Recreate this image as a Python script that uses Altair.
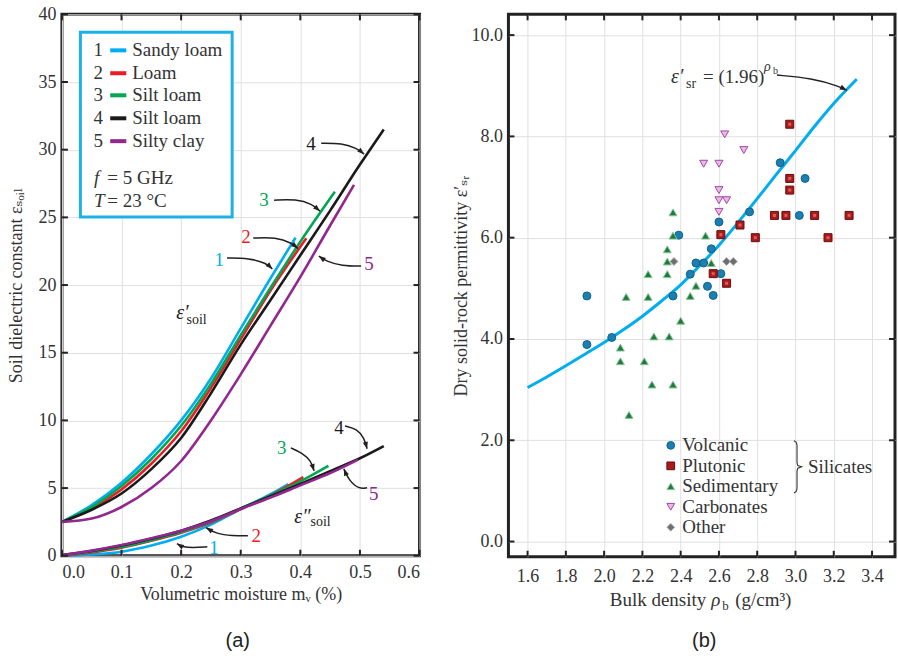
import altair as alt
import pandas as pd

SERIF = "Liberation Serif, DejaVu Serif, serif"
SANS = "Liberation Sans, Arial, sans-serif"
INK = "#231f20"

# ================= Panel (a): soil dielectric constant =================
soil_ids = ["1", "2", "3", "4", "5"]
soil_labels = ["Sandy loam", "Loam", "Silt loam", "Silt loam", "Silty clay"]
soil_colors = ["#00aeef", "#ed1c24", "#00a651", "#1a1a1a", "#92278f"]

# real part  eps'
mv_re_1 = [0, 0.05, 0.1, 0.15, 0.2, 0.25, 0.3, 0.35, 0.392]
ep_re_1 = [2.5, 3.75, 5.4, 7.5, 10.0, 13.1, 16.8, 20.5, 23.5]
mv_re_2 = [0, 0.05, 0.1, 0.15, 0.2, 0.25, 0.3, 0.35, 0.41]
ep_re_2 = [2.5, 3.5, 4.9, 6.8, 9.2, 12.4, 16.0, 19.6, 23.45]
mv_re_3 = [0, 0.05, 0.1, 0.15, 0.2, 0.25, 0.3, 0.35, 0.4, 0.458]
ep_re_3 = [2.5, 3.6, 5.15, 7.15, 9.6, 12.7, 16.3, 19.8, 23.2, 26.9]
mv_re_4 = [0, 0.05, 0.1, 0.15, 0.2, 0.25, 0.3, 0.35, 0.4, 0.45, 0.5, 0.54]
ep_re_4 = [2.5, 3.4, 4.6, 6.4, 8.7, 12.0, 15.6, 18.9, 22.2, 25.5, 28.9, 31.5]
mv_re_5 = [0, 0.05, 0.1, 0.15, 0.2, 0.25, 0.3, 0.35, 0.4, 0.45, 0.49]
ep_re_5 = [2.5, 2.75, 3.6, 5.0, 7.0, 10.0, 13.4, 17.0, 20.6, 24.4, 27.4]

# imaginary part  eps''
mv_im_1 = [0, 0.05, 0.1, 0.15, 0.2, 0.25, 0.3, 0.35, 0.38]
ep_im_1 = [0, 0.1, 0.3, 0.75, 1.4, 2.3, 3.45, 4.55, 5.3]
mv_im_2 = [0, 0.05, 0.1, 0.15, 0.2, 0.25, 0.3, 0.35, 0.405]
ep_im_2 = [0, 0.25, 0.6, 1.1, 1.7, 2.45, 3.45, 4.45, 5.8]
mv_im_3 = [0, 0.05, 0.1, 0.15, 0.2, 0.25, 0.3, 0.35, 0.4, 0.447]
ep_im_3 = [0, 0.3, 0.65, 1.15, 1.75, 2.5, 3.5, 4.45, 5.5, 6.65]
mv_im_4 = [0, 0.05, 0.1, 0.15, 0.2, 0.25, 0.3, 0.35, 0.4, 0.45, 0.5, 0.54]
ep_im_4 = [0.05, 0.35, 0.75, 1.25, 1.85, 2.6, 3.5, 4.4, 5.3, 6.25, 7.2, 8.1]
mv_im_5 = [0, 0.05, 0.1, 0.15, 0.2, 0.25, 0.3, 0.35, 0.4, 0.45, 0.497]
ep_im_5 = [0.05, 0.38, 0.8, 1.3, 1.85, 2.55, 3.45, 4.3, 5.2, 6.1, 7.1]

x_ticks_a = [0.0, 0.1, 0.2, 0.3, 0.4, 0.5, 0.6]
y_ticks_a = [0, 5, 10, 15, 20, 25, 30, 35, 40]

# annotation: series numbers and their arrows (data units)
num_re_x = [0.264, 0.309, 0.339, 0.418, 0.515]
num_re_y = [21.85, 23.54, 26.27, 30.4, 21.55]
num_im_x = [0.255, 0.326, 0.369, 0.465, 0.523]
num_im_y = [0.59, 1.48, 7.97, 9.45, 4.58]

arrow_paths_a = {
    "r1": ([0.277, 0.314, 0.343, 0.353], [21.99, 21.99, 21.62, 21.18], 45),
    "r2": ([0.321, 0.359, 0.386, 0.396], [23.47, 23.54, 23.10, 22.70], 40),
    "r3": ([0.356, 0.393, 0.420, 0.433], [26.27, 26.35, 25.98, 25.46], 41),
    "r4": ([0.435, 0.470, 0.495, 0.507], [30.48, 30.48, 30.11, 29.67], 41),
    "r5": ([0.502, 0.470, 0.443, 0.431], [21.40, 21.40, 21.77, 22.14], 215),
    "i1": ([0.244, 0.219, 0.202, 0.193], [0.66, 0.59, 0.66, 0.89], 211),
    "i2": ([0.312, 0.286, 0.259, 0.242], [1.48, 1.48, 1.62, 2.07], 211),
    "i3": ([0.384, 0.403, 0.418, 0.423], [7.97, 7.60, 7.01, 6.27], 73),
    "i4": ([0.475, 0.495, 0.507, 0.512], [9.59, 9.37, 8.71, 7.90], 75),
    "i5": ([0.512, 0.498, 0.482, 0.473], [5.02, 4.94, 5.54, 6.42], 247),
}

# legend box of panel (a)
box_x = [0.031, 0.2856]
box_y = [25.02, 38.67]
leg_row_y = [37.34, 35.65, 34.02, 32.32, 30.63]
leg_num_x = 0.061
leg_line_x = [0.081, 0.108]
leg_text_x = 0.118
cond_y = [27.92, 26.2]
cond_sym = ["f", "T"]
cond_txt = ["= 5 GHz", "= 23 °C"]
cond_sym_x = 0.054
cond_txt_x = 0.0762

# ================= Panel (b): dry solid-rock permittivity =================
rock_types = ["Volcanic", "Plutonic", "Sedimentary", "Carbonates", "Other"]
rock_shapes = ["circle", "square", "triangle-up", "triangle-down", "diamond"]
rock_fill = ["#1b7fb0", "#a51c1c", "#1e7b3c", "#e9b8e9", "#6e6e6e"]
rock_stroke = ["#106090", "#6e0a0a", "#8cc69c", "#a348a3", "#b0b0b0"]

volc_x = [1.91, 1.91, 2.04, 2.36, 2.39, 2.45, 2.48, 2.52, 2.54, 2.56, 2.57, 2.60, 2.61, 2.76, 2.92, 3.02, 3.05]
volc_y = [4.85, 3.89, 4.03, 4.85, 6.05, 5.28, 5.50, 5.50, 5.04, 5.78, 4.86, 6.31, 5.29, 6.51, 7.48, 6.44, 7.17]
plut_x = [2.57, 2.64, 2.61, 2.71, 2.79, 2.89, 2.95, 2.97, 2.97, 2.97, 3.10, 3.17, 3.28]
plut_y = [5.29, 5.10, 6.06, 6.25, 6.00, 6.44, 6.44, 8.24, 7.17, 6.94, 6.44, 6.00, 6.44]
sedi_x = [2.085, 2.085, 2.13, 2.21, 2.25, 2.36, 2.26, 2.34, 2.40, 2.115, 2.23, 2.23, 2.33, 2.33, 2.33, 2.36, 2.36, 2.45, 2.48, 2.56, 2.53]
sedi_y = [3.83, 3.56, 2.50, 3.56, 3.10, 3.10, 4.05, 4.05, 4.36, 4.83, 4.83, 5.28, 5.28, 5.53, 5.77, 6.04, 6.50, 4.85, 5.05, 5.50, 6.04]
carb_x = [2.52, 2.60, 2.63, 2.73, 2.60, 2.60, 2.64, 2.60]
carb_y = [7.46, 7.46, 8.04, 7.73, 6.94, 6.74, 6.74, 6.51]
other_x = [2.365, 2.64, 2.675]
other_y = [5.53, 5.53, 5.53]

fit_x = [1.6, 1.7, 1.8, 1.9, 2.0, 2.1, 2.2, 2.3, 2.4, 2.5, 2.6, 2.7, 2.8, 2.9, 3.0, 3.1, 3.2, 3.32]
fit_y = [3.04, 3.25, 3.47, 3.70, 3.93, 4.18, 4.45, 4.75, 5.07, 5.45, 5.85, 6.30, 6.77, 7.25, 7.72, 8.2, 8.65, 9.13]

x_ticks_b = [1.6, 1.8, 2.0, 2.2, 2.4, 2.6, 2.8, 3.0, 3.2, 3.4]
y_ticks_b = [0, 2, 4, 6, 8, 10]

brace_x = [2.992, 3.004, 3.008, 3.008, 3.012, 3.032, 3.012, 3.008, 3.008, 3.004, 2.992]
brace_y = [1.99, 1.96, 1.90, 1.56, 1.50, 1.475, 1.45, 1.39, 1.05, 0.99, 0.96]

eq_arrow_x = [2.903, 3.086, 3.228, 3.268]
eq_arrow_y = [9.21, 9.15, 8.99, 8.91]
eq_arrow_angle = 27

ARROW = "M0,0L-1,-0.38L-1,0.38Z"

# ---------------- build panel (a) ----------------
W_A, H_A = 358, 542
re_series = [(mv_re_1, ep_re_1), (mv_re_2, ep_re_2), (mv_re_3, ep_re_3), (mv_re_4, ep_re_4), (mv_re_5, ep_re_5)]
im_series = [(mv_im_1, ep_im_1), (mv_im_2, ep_im_2), (mv_im_3, ep_im_3), (mv_im_4, ep_im_4), (mv_im_5, ep_im_5)]
rows = []
for part, series in (("re", re_series), ("im", im_series)):
    for sid, (xs, ys) in zip(soil_ids, series):
        for i, (x, y) in enumerate(zip(xs, ys)):
            rows.append({"sid": sid, "part": part, "mv": x, "eps": y, "seq": i})
df_a = pd.DataFrame(rows)

xa_scale = alt.Scale(domain=[0, 0.6], nice=False, zero=False)
ya_scale = alt.Scale(domain=[0, 40], nice=False, zero=False)
xa_axis = alt.Axis(values=x_ticks_a, format=".1f", title="Volumetric moisture mᵥ (%)",
                   labelPadding=8, titlePadding=4, grid=True)
ya_axis = alt.Axis(values=y_ticks_a, format="d", title="Soil dielectric constant εₛₒᵢₗ",
                   labelPadding=6, titleX=-36, titleY=H_A / 2, grid=True)
col_a = alt.Scale(domain=soil_ids, range=soil_colors)


def XA(f):
    return alt.X(f"{f}:Q", scale=xa_scale, axis=xa_axis)


def YA(f):
    return alt.Y(f"{f}:Q", scale=ya_scale, axis=ya_axis)


curves_a = alt.Chart(df_a).mark_line(strokeWidth=2.6, interpolate="monotone").encode(
    x=XA("mv"), y=YA("eps"),
    color=alt.Color("sid:N", scale=col_a, legend=None),
    detail="part:N", order="seq:Q")

# inward ticks
df_xt_a = pd.DataFrame({"v": x_ticks_a})
df_yt_a = pd.DataFrame({"v": y_ticks_a})
tick_style = dict(color="#222", strokeWidth=2)
ticks_a = alt.layer(
    alt.Chart(df_xt_a).mark_rule(**tick_style).encode(x=XA("v"), y=alt.value(H_A), y2=alt.value(H_A - 6)),
    alt.Chart(df_xt_a).mark_rule(**tick_style).encode(x=XA("v"), y=alt.value(0), y2=alt.value(6)),
    alt.Chart(df_yt_a).mark_rule(**tick_style).encode(y=YA("v"), x=alt.value(0), x2=alt.value(6)),
    alt.Chart(df_yt_a).mark_rule(**tick_style).encode(y=YA("v"), x=alt.value(W_A), x2=alt.value(W_A - 6)),
)

# arrows
arr_rows, head_rows = [], []
for aid, (xs, ys, ang) in arrow_paths_a.items():
    for i, (x, y) in enumerate(zip(xs, ys)):
        arr_rows.append({"aid": aid, "seq": i, "x": x, "y": y})
    head_rows.append({"x": xs[-1], "y": ys[-1], "ang": ang})
df_arr_a = pd.DataFrame(arr_rows)
df_head_a = pd.DataFrame(head_rows)
arrows_a = alt.Chart(df_arr_a).mark_line(color=INK, strokeWidth=1.5, interpolate="basis").encode(
    x=XA("x"), y=YA("y"), detail="aid:N", order="seq:Q")
heads_a = alt.Chart(df_head_a).mark_point(shape=ARROW, filled=True, color=INK, size=190, opacity=1).encode(
    x=XA("x"), y=YA("y"), angle=alt.Angle("ang:Q", scale=None))

df_num = pd.DataFrame({"sid": soil_ids * 2, "x": num_re_x + num_im_x, "y": num_re_y + num_im_y})
nums_a = alt.Chart(df_num).mark_text(font=SERIF, fontSize=19, baseline="middle", align="center").encode(
    x=XA("x"), y=YA("y"), text="sid:N", color=alt.Color("sid:N", scale=col_a, legend=None))

# eps labels
df_eps_sym = pd.DataFrame({"x": [0.192, 0.390], "y": [17.9, 2.83], "t": ["ε′", "ε″"]})
df_eps_sub = pd.DataFrame({"x": [0.209, 0.417], "y": [17.45, 2.46], "t": ["soil", "soil"]})
eps_sym = alt.Chart(df_eps_sym).mark_text(font=SERIF, fontSize=20, fontStyle="italic", align="left",
                                          baseline="middle", color=INK).encode(x=XA("x"), y=YA("y"), text="t:N")
eps_sub = alt.Chart(df_eps_sub).mark_text(font=SERIF, fontSize=14, align="left",
                                          baseline="middle", color=INK).encode(x=XA("x"), y=YA("y"), text="t:N")

# legend box (a)
df_box = pd.DataFrame({"x0": [box_x[0]], "x1": [box_x[1]], "y0": [box_y[0]], "y1": [box_y[1]]})
box_a = alt.Chart(df_box).mark_rect(fill="white", stroke="#1eb1e8", strokeWidth=3).encode(
    x=XA("x0"), x2="x1", y=YA("y0"), y2="y1")
df_leg = pd.DataFrame({"sid": soil_ids, "lab": soil_labels, "y": leg_row_y,
                       "xn": [leg_num_x] * 5, "xl0": [leg_line_x[0]] * 5, "xl1": [leg_line_x[1]] * 5,
                       "xt": [leg_text_x] * 5})
leg_num = alt.Chart(df_leg).mark_text(font=SERIF, fontSize=19, align="center", baseline="middle",
                                      color="#333").encode(x=XA("xn"), y=YA("y"), text="sid:N")
leg_line = alt.Chart(df_leg).mark_rule(strokeWidth=4).encode(
    x=XA("xl0"), x2="xl1", y=YA("y"), color=alt.Color("sid:N", scale=col_a, legend=None))
leg_txt = alt.Chart(df_leg).mark_text(font=SERIF, fontSize=19, align="left", baseline="middle",
                                      color="#333").encode(x=XA("xt"), y=YA("y"), text="lab:N")
df_cond = pd.DataFrame({"s": cond_sym, "t": cond_txt, "y": cond_y,
                        "xs": [cond_sym_x] * 2, "xt": [cond_txt_x] * 2})
cond_s = alt.Chart(df_cond).mark_text(font=SERIF, fontSize=19, fontStyle="italic", align="left",
                                      baseline="middle", color="#333").encode(x=XA("xs"), y=YA("y"), text="s:N")
cond_t = alt.Chart(df_cond).mark_text(font=SERIF, fontSize=19, align="left",
                                      baseline="middle", color="#333").encode(x=XA("xt"), y=YA("y"), text="t:N")

cap_a = alt.Chart(pd.DataFrame({"t": ["(a)"]})).mark_text(font=SANS, fontSize=20, color="#222").encode(
    x=alt.value(176), y=alt.value(627), text="t:N")

panel_a = alt.layer(curves_a, ticks_a, arrows_a, heads_a, nums_a, eps_sym, eps_sub,
                    box_a, leg_line, leg_num, leg_txt, cond_s, cond_t, cap_a).properties(width=W_A, height=H_A)

# ---------------- build panel (b) ----------------
W_B, H_B = 387, 543
pts = []
for name, xs, ys in (("Volcanic", volc_x, volc_y), ("Plutonic", plut_x, plut_y),
                     ("Sedimentary", sedi_x, sedi_y), ("Carbonates", carb_x, carb_y),
                     ("Other", other_x, other_y)):
    for x, y in zip(xs, ys):
        pts.append({"type": name, "rho": x, "eps": y})
df_b = pd.DataFrame(pts)

xb_scale = alt.Scale(domain=[1.5, 3.52], nice=False, zero=False)
yb_scale = alt.Scale(domain=[-0.3, 10.41], nice=False, zero=False)
xb_axis = alt.Axis(values=x_ticks_b, format=".1f", title=None, labelPadding=11, grid=True)
yb_axis = alt.Axis(values=y_ticks_b, format=".1f", title="Dry solid-rock permittivity ε′ₛᵣ",
                   labelPadding=6, titleX=-38, titleY=H_B / 2, grid=True)


def XB(f):
    return alt.X(f"{f}:Q", scale=xb_scale, axis=xb_axis)


def YB(f):
    return alt.Y(f"{f}:Q", scale=yb_scale, axis=yb_axis)


leg_b = alt.Legend(title=None, orient="none", legendX=600, legendY=422, labelFont=SERIF, labelFontSize=19,
                   labelColor="#333", symbolSize=60, rowPadding=0.5, padding=0, labelOffset=2,
                   symbolStrokeWidth=1)
points_b = alt.Chart(df_b).mark_point(filled=True, size=64, strokeWidth=1, opacity=1).encode(
    x=XB("rho"), y=YB("eps"),
    shape=alt.Shape("type:N", scale=alt.Scale(domain=rock_types, range=rock_shapes), legend=leg_b),
    fill=alt.Fill("type:N", scale=alt.Scale(domain=rock_types, range=rock_fill), legend=leg_b),
    stroke=alt.Stroke("type:N", scale=alt.Scale(domain=rock_types, range=rock_stroke), legend=leg_b),
)
# lighter centre of the plutonic squares
plut_core = alt.Chart(df_b[df_b["type"] == "Plutonic"]).mark_point(
    shape="square", filled=True, size=9, color="#e05a5a", opacity=1).encode(x=XB("rho"), y=YB("eps"))
fit_b = alt.Chart(pd.DataFrame({"rho": fit_x, "eps": fit_y})).mark_line(
    color="#00aeef", strokeWidth=3, interpolate="monotone").encode(x=XB("rho"), y=YB("eps"))

df_xt_b = pd.DataFrame({"v": x_ticks_b})
df_yt_b = pd.DataFrame({"v": y_ticks_b})
ticks_b = alt.layer(
    alt.Chart(df_xt_b).mark_rule(**tick_style).encode(x=XB("v"), y=alt.value(H_B), y2=alt.value(H_B - 6)),
    alt.Chart(df_xt_b).mark_rule(**tick_style).encode(x=XB("v"), y=alt.value(0), y2=alt.value(6)),
    alt.Chart(df_yt_b).mark_rule(**tick_style).encode(y=YB("v"), x=alt.value(0), x2=alt.value(6)),
    alt.Chart(df_yt_b).mark_rule(**tick_style).encode(y=YB("v"), x=alt.value(W_B), x2=alt.value(W_B - 6)),
)

brace = alt.Chart(pd.DataFrame({"x": brace_x, "y": brace_y, "seq": list(range(len(brace_x)))})).mark_line(
    color="#333", strokeWidth=1.1).encode(x=XB("x"), y=YB("y"), order="seq:Q")
silic = alt.Chart(pd.DataFrame({"x": [3.065], "y": [1.475], "t": ["Silicates"]})).mark_text(
    font=SERIF, fontSize=19, align="left", baseline="middle", color="#333").encode(x=XB("x"), y=YB("y"), text="t:N")

# equation annotation
eq_norm = alt.Chart(pd.DataFrame({"x": [2.428, 2.517, 2.882], "y": [8.95, 9.05, 9.23],
                                  "t": ["sr", "= (1.96)", "b"], "s": [14, 19, 10]})).mark_text(
    font=SERIF, align="left", baseline="alphabetic", color="#333").encode(
    x=XB("x"), y=YB("y"), text="t:N", size=alt.Size("s:Q", scale=None, legend=None))
eq_ital = alt.Chart(pd.DataFrame({"x": [2.350, 2.835], "y": [9.05, 9.29],
                                  "t": ["ε′", "ρ"], "s": [20, 14]})).mark_text(
    font=SERIF, fontStyle="italic", align="left", baseline="alphabetic", color="#333").encode(
    x=XB("x"), y=YB("y"), text="t:N", size=alt.Size("s:Q", scale=None, legend=None))
eq_arrow = alt.Chart(pd.DataFrame({"x": eq_arrow_x, "y": eq_arrow_y, "seq": [0, 1, 2, 3]})).mark_line(
    color=INK, strokeWidth=1.5, interpolate="basis").encode(x=XB("x"), y=YB("y"), order="seq:Q")
eq_head = alt.Chart(pd.DataFrame({"x": [eq_arrow_x[-1]], "y": [eq_arrow_y[-1]], "ang": [eq_arrow_angle]})).mark_point(
    shape=ARROW, filled=True, color=INK, size=190, opacity=1).encode(
    x=XB("x"), y=YB("y"), angle=alt.Angle("ang:Q", scale=None))

# x-axis title of (b) with subscript/superscript
xt_b = alt.layer(
    alt.Chart(pd.DataFrame({"t": ["Bulk density"]})).mark_text(
        font=SERIF, fontSize=19, align="right", baseline="alphabetic", color="#333").encode(
        x=alt.value(198), y=alt.value(592), text="t:N"),
    alt.Chart(pd.DataFrame({"t": ["ρ"]})).mark_text(
        font=SERIF, fontSize=19, fontStyle="italic", align="left", baseline="alphabetic", color="#333").encode(
        x=alt.value(203), y=alt.value(592), text="t:N"),
    alt.Chart(pd.DataFrame({"t": ["b"]})).mark_text(
        font=SERIF, fontSize=13, align="left", baseline="alphabetic", color="#333").encode(
        x=alt.value(214), y=alt.value(596), text="t:N"),
    alt.Chart(pd.DataFrame({"t": ["(g/cm³)"]})).mark_text(
        font=SERIF, fontSize=19, align="left", baseline="alphabetic", color="#333").encode(
        x=alt.value(227), y=alt.value(592), text="t:N"),
)
cap_b = alt.Chart(pd.DataFrame({"t": ["(b)"]})).mark_text(font=SANS, fontSize=20, color="#222").encode(
    x=alt.value(196), y=alt.value(627), text="t:N")

panel_b = alt.layer(fit_b, ticks_b, points_b, plut_core, brace, silic, eq_norm, eq_ital, eq_arrow, eq_head,
                    xt_b, cap_b).properties(width=W_B, height=H_B)

chart = alt.hconcat(panel_a, panel_b, spacing=89, bounds="flush").properties(
    padding={"left": 6, "top": 3, "right": 0, "bottom": 0}
).configure_view(stroke="#222", strokeWidth=3).configure_axis(
    labelFont=SERIF, titleFont=SERIF, labelFontSize=18, titleFontSize=18, labelColor="#333",
    titleColor="#333", titleFontWeight="normal", gridColor="#e0e0e0", gridWidth=1,
    ticks=False, domain=False
)

chart.save("out.html", embed_options={"renderer": "svg", "actions": False})
